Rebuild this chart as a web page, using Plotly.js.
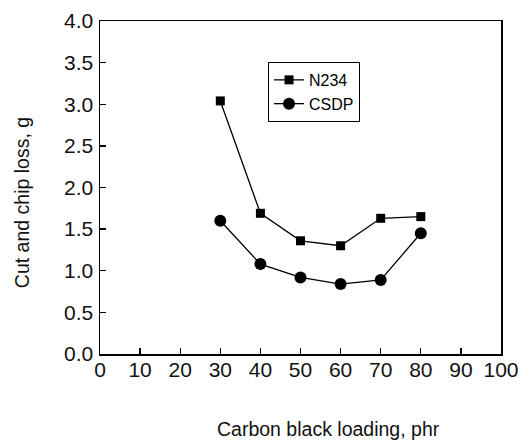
<!DOCTYPE html>
<html>
<head>
<meta charset="utf-8">
<script src="https://cdn.plot.ly/plotly-3.0.1.min.js"></script>
<style>html,body{margin:0;padding:0;background:#fff;}#chart{width:531px;height:440px;}</style>
</head>
<body>
<div id="chart"></div>
<script>
const loading = [30, 40, 50, 60, 70, 80];
const n234 = [3.04, 1.69, 1.36, 1.30, 1.63, 1.65];
const csdp = [1.60, 1.08, 0.92, 0.84, 0.89, 1.45];
const seriesNames = ["N234", "CSDP"];
const xTitle = "Carbon black loading, phr";
const yTitle = "Cut and chip loss, g";
const xTicks = [0, 10, 20, 30, 40, 50, 60, 70, 80, 90, 100];
const yTicks = [0, 0.5, 1.0, 1.5, 2.0, 2.5, 3.0, 3.5, 4.0];

const font = "Liberation Sans, Arial, sans-serif";
const traces = [
  {x: loading, y: n234, name: seriesNames[0], type: "scatter", mode: "lines+markers",
   line: {color: "#000", width: 1.3}, marker: {symbol: "square", size: 9, color: "#000"}},
  {x: loading, y: csdp, name: seriesNames[1], type: "scatter", mode: "lines+markers",
   line: {color: "#000", width: 1.3}, marker: {symbol: "circle", size: 12, color: "#000"}}
];
const axisCommon = {
  showline: true, linecolor: "#000", linewidth: 1.5, mirror: true,
  ticks: "inside", ticklen: 6, tickwidth: 1.3, tickcolor: "#000",
  showgrid: false, zeroline: false,
  tickfont: {family: font, size: 21, color: "#111"}
};
const layout = {
  width: 531, height: 440,
  margin: {l: 100, r: 30, t: 21, b: 86},
  paper_bgcolor: "#fff", plot_bgcolor: "#fff",
  showlegend: true,
  legend: {x: 0.419, y: 0.877, xanchor: "left", yanchor: "top",
    bordercolor: "#000", borderwidth: 1, bgcolor: "#fff",
    font: {family: font, size: 16, color: "#000"}, tracegroupgap: 0},
  xaxis: Object.assign({}, axisCommon, {range: [0, 100], tickvals: xTicks,
    ticktext: xTicks.map(String), ticklabelstandoff: -4}),
  yaxis: Object.assign({}, axisCommon, {range: [0, 4], tickvals: yTicks,
    ticktext: yTicks.map(v => v.toFixed(1)), ticklabelstandoff: 1}),
  annotations: [
    {text: xTitle, xref: "paper", yref: "paper", x: 0.569, y: -0.225,
     xanchor: "center", yanchor: "middle", showarrow: false,
     font: {family: font, size: 19.5, color: "#111"}},
    {text: yTitle, xref: "paper", yref: "paper", x: -0.1945, y: 0.453,
     xanchor: "center", yanchor: "middle", showarrow: false, textangle: -90,
     font: {family: font, size: 19.5, color: "#111"}}
  ]
};
Plotly.newPlot("chart", traces, layout, {displayModeBar: false, staticPlot: true});
</script>
</body>
</html>
